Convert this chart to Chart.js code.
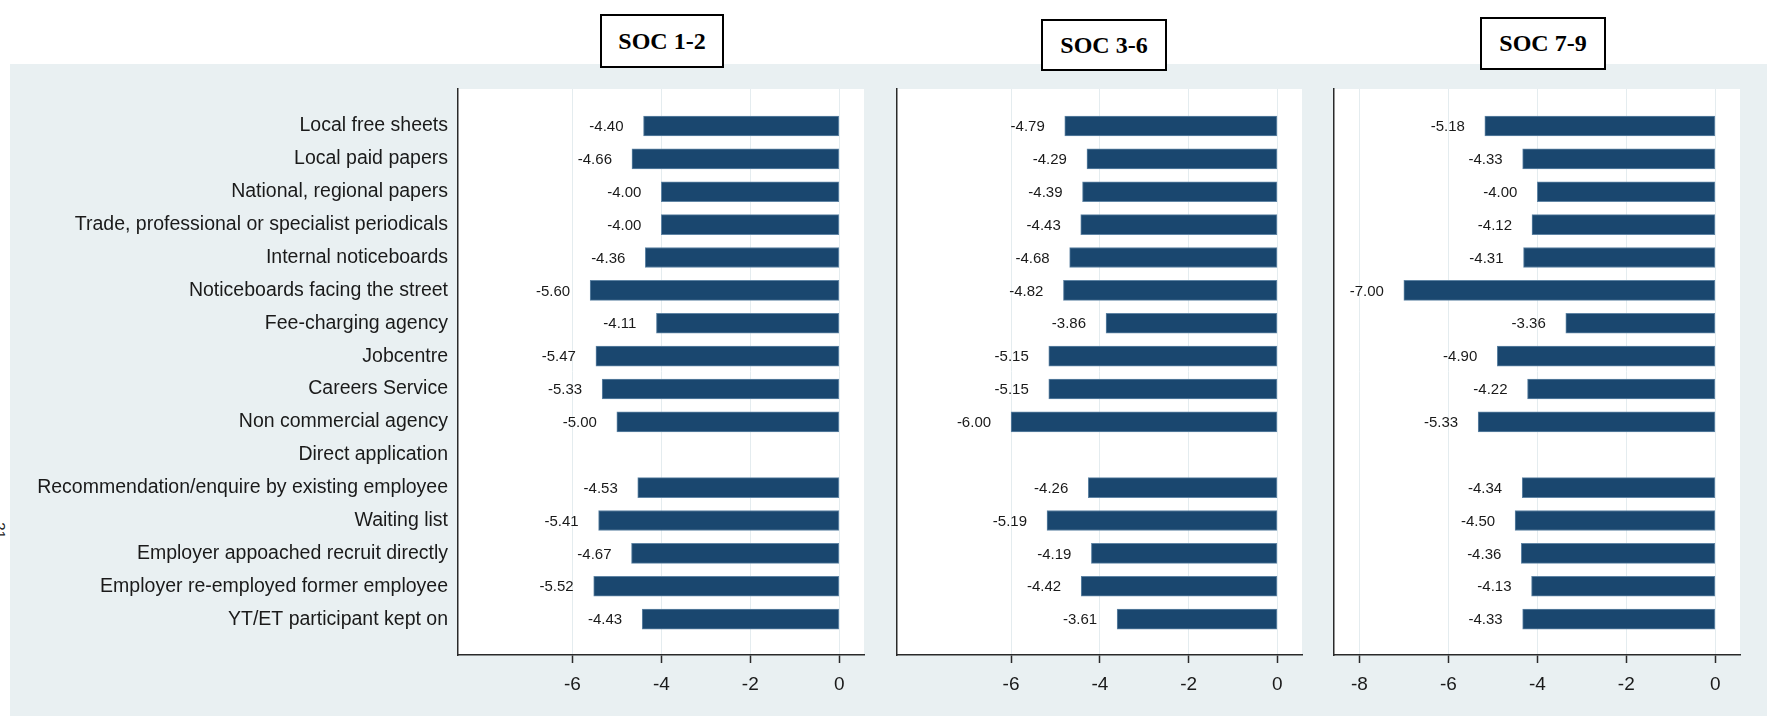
<!DOCTYPE html>
<html>
<head>
<meta charset="utf-8">
<script src="https://cdn.jsdelivr.net/npm/chart.js@4.4.1/dist/chart.umd.min.js"></script>
<style>
  html, body { margin: 0; padding: 0; background: #fff; }
  body { width: 1773px; height: 718px; position: relative; overflow: hidden; font-family: 'Liberation Sans', Arial, sans-serif; }
  #bg { position: absolute; left: 10px; top: 64px; width: 1757px; height: 652px; background: #e9f0f2; }
  canvas { position: absolute; top: 0; }
  .soc { position: absolute; box-sizing: border-box; border: 2px solid #000; background: #fff;
         display: flex; align-items: center; justify-content: center;
         font-family: 'Liberation Serif', 'Times New Roman', serif; font-weight: bold; font-size: 24px; color: #000; }
  #pageno { position: absolute; left: -8px; top: 522px; font-size: 15px; transform: rotate(90deg); color: #222; }
</style>
</head>
<body>
<div id="bg"></div>
<div id="pageno">21</div>
<canvas id="soc12" width="880" height="718" style="left:0px"></canvas>
<canvas id="soc36" width="440" height="718" style="left:880px"></canvas>
<canvas id="soc79" width="453" height="718" style="left:1320px"></canvas>
<div class="soc" style="left:600px;top:14px;width:124px;height:54px">SOC 1-2</div>
<div class="soc" style="left:1041px;top:19px;width:126px;height:52px">SOC 3-6</div>
<div class="soc" style="left:1480px;top:17px;width:126px;height:53px">SOC 7-9</div>

<script>
const categories = [
    'Local free sheets',
    'Local paid papers',
    'National, regional papers',
    'Trade, professional or specialist periodicals',
    'Internal noticeboards',
    'Noticeboards facing the street',
    'Fee-charging agency',
    'Jobcentre',
    'Careers Service',
    'Non commercial agency',
    'Direct application',
    'Recommendation/enquire by existing employee',
    'Waiting list',
    'Employer appoached recruit directly',
    'Employer re-employed former employee',
    'YT/ET participant kept on'
];

// null = no bar for that row
const soc12 = [-4.40, -4.66, -4.00, -4.00, -4.36, -5.60, -4.11, -5.47, -5.33, -5.00, null, -4.53, -5.41, -4.67, -5.52, -4.43];
const soc36 = [-4.79, -4.29, -4.39, -4.43, -4.68, -4.82, -3.86, -5.15, -5.15, -6.00, null, -4.26, -5.19, -4.19, -4.42, -3.61];
const soc79 = [-5.18, -4.33, -4.00, -4.12, -4.31, -7.00, -3.36, -4.90, -4.22, -5.33, null, -4.34, -4.50, -4.36, -4.13, -4.33];

const ticks12 = [-6, -4, -2, 0];
const ticks36 = [-6, -4, -2, 0];
const ticks79 = [-8, -6, -4, -2, 0];

const navy = '#1a476f';
const axisColor = '#2a2a2a';

// white plot region behind the bars
const plotBg = {
    id: 'plotBg',
    beforeDraw(chart) {
        const { ctx, chartArea: a } = chart;
        ctx.save();
        ctx.fillStyle = '#ffffff';
        ctx.fillRect(a.left, a.top, a.right - a.left, a.bottom - a.top);
        ctx.restore();
    }
};

// value labels just left of each bar
const valueLabels = {
    id: 'valueLabels',
    afterDatasetsDraw(chart) {
        const ctx = chart.ctx;
        const meta = chart.getDatasetMeta(0);
        const pts = chart.data.datasets[0].data;
        ctx.save();
        ctx.font = '15px "Liberation Sans", Arial, sans-serif';
        ctx.fillStyle = '#1a1a1a';
        ctx.textAlign = 'right';
        ctx.textBaseline = 'middle';
        meta.data.forEach((bar, i) => {
            const left = Math.min(bar.x, bar.base);
            ctx.fillText(pts[i].x.toFixed(2), left - 20, bar.y + 1);
        });
        ctx.restore();
    }
};

function plotPanel(id, values, tickVals, showLabels, yWidth, padRight) {
    const points = values
        .map((v, i) => ({ x: v, y: i }))
        .filter(p => p.x !== null);

    new Chart(document.getElementById(id), {
        type: 'bar',
        data: {
            datasets: [{
                data: points,
                backgroundColor: navy,
                borderColor: '#5f84a4',
                borderWidth: 1,
                borderSkipped: false,
                barThickness: 20
            }]
        },
        options: {
            indexAxis: 'y',
            responsive: false,
            animation: false,
            layout: { padding: { top: 89, bottom: 13, left: 0, right: padRight } },
            plugins: {
                legend: { display: false },
                tooltip: { enabled: false }
            },
            scales: {
                x: {
                    type: 'linear',
                    min: -8.57,
                    max: 0.555,
                    afterBuildTicks: s => { s.ticks = tickVals.map(v => ({ value: v })); },
                    afterFit: s => { s.height = 50; },
                    ticks: {
                        callback: v => String(v),
                        color: '#1a1a1a',
                        font: { family: '"Liberation Sans", Arial, sans-serif', size: 19 },
                        padding: 10,
                        maxRotation: 0
                    },
                    grid: { color: '#e4ecef', lineWidth: 1, tickLength: 8, tickColor: axisColor, tickWidth: 1.5 },
                    border: { display: true, color: axisColor, width: 1.5 }
                },
                y: {
                    type: 'linear',
                    reverse: true,
                    offset: false,
                    min: -1.126,
                    max: 16.09,
                    afterBuildTicks: s => { s.ticks = categories.map((c, i) => ({ value: i })); },
                    afterFit: s => { s.width = yWidth; },
                    ticks: {
                        display: showLabels,
                        autoSkip: false,
                        callback: v => categories[v],
                        color: '#1a1a1a',
                        font: { family: '"Liberation Sans", Arial, sans-serif', size: 19.5 },
                        padding: 10
                    },
                    grid: { display: false, drawTicks: false, offset: false },
                    border: { display: true, color: axisColor, width: 1.5 }
                }
            }
        },
        plugins: [plotBg, valueLabels]
    });
}

plotPanel('soc12', soc12, ticks12, true, 458, 16);
plotPanel('soc36', soc36, ticks36, false, 17, 18);
plotPanel('soc79', soc79, ticks79, false, 14, 33);
</script>
</body>
</html>
